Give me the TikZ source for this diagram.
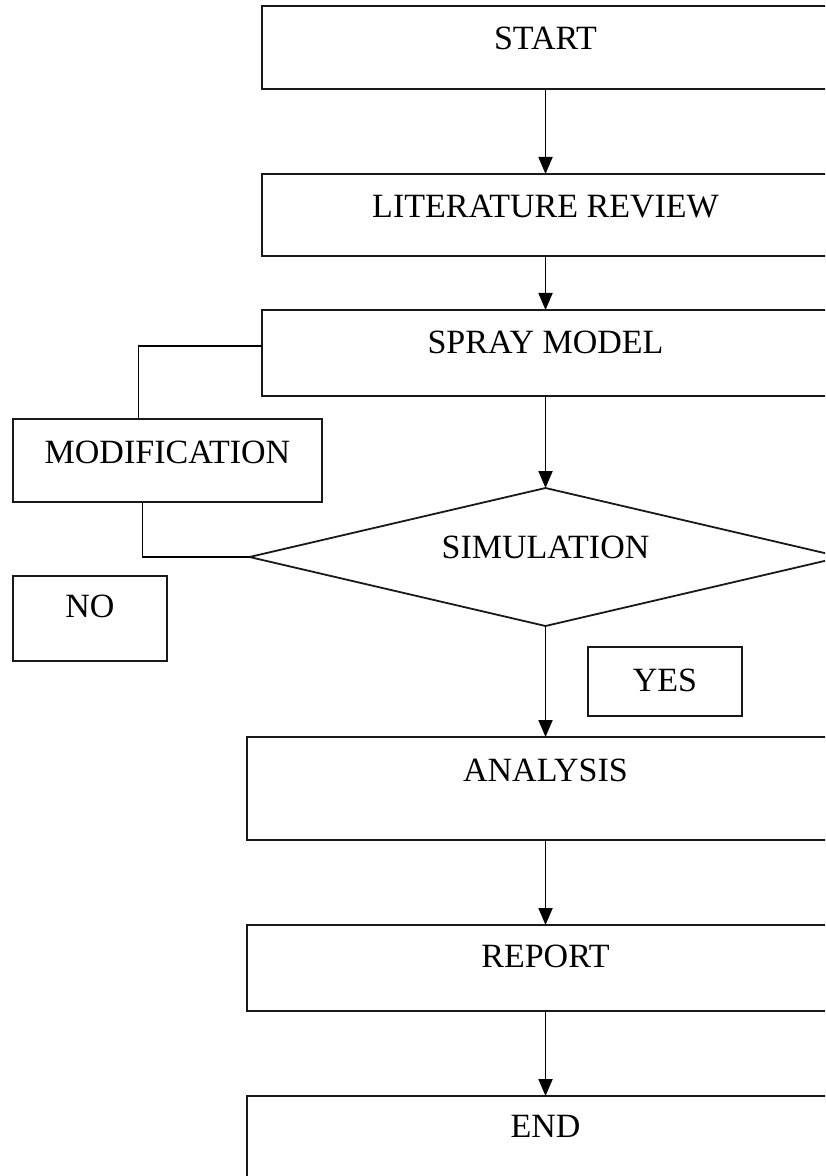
\documentclass[tikz,border=0pt]{standalone}
\usepackage{fontspec}
\setmainfont{Liberation Serif}
\usetikzlibrary{arrows.meta, positioning, shapes.geometric}

\begin{document}
\begin{tikzpicture}[
    x=0.5pt, y=-0.5pt,
    stepbox/.style={
        rectangle,
        draw=black!90,
        line width=0.9pt,
        inner sep=0pt,
        outer sep=0pt,
        text height=22pt,
        text depth=20pt,
        align=center,
        font=\fontsize{17}{20}\selectfont
    },
    decision/.style={
        diamond,
        draw=black!90,
        line width=0.9pt,
        aspect=4.3,
        inner sep=0pt,
        outer sep=0pt,
        minimum width=296pt,
        minimum height=69pt,
        text height=11pt,
        text depth=10pt,
        font=\fontsize{17}{20}\selectfont
    },
    flow/.style={
        line width=0.9pt,
        -{Triangle[length=8.5pt, width=7pt]}
    },
    link/.style={
        line width=0.9pt
    }
]
    \useasboundingbox (0,0) rectangle (825,1176);
    \fill[white] (0,0) rectangle (825,1176);
    \clip (0,0) rectangle (825,1176);

    % MAIN COLUMN
    \node[stepbox, minimum width=283.5pt, text depth=19.5pt, anchor=north] (start) at (545.5,6) {START};
    \node[stepbox, minimum width=283.5pt, text depth=19pt, below=42.5pt of start] (litreview) {LITERATURE REVIEW};
    \node[stepbox, minimum width=283.5pt, text height=21.5pt, text depth=21.5pt, below=27pt of litreview] (spray) {SPRAY MODEL};
    \node[decision, below=46pt of spray] (sim) {SIMULATION};
    \node[stepbox, minimum width=298.5pt, text depth=29.5pt, below=55.5pt of sim] (analysis) {ANALYSIS};
    \node[stepbox, minimum width=298.5pt, text height=21pt, text depth=22pt, below=42.5pt of analysis] (report) {REPORT};
    \node[stepbox, minimum width=298.5pt, text height=20.5pt, text depth=40pt, below=42.5pt of report] (end) {END};

    % SIDE BOXES
    \node[stepbox, minimum width=154.5pt, text depth=19.5pt, anchor=north west] (modif) at (13,419) {MODIFICATION};
    \node[stepbox, minimum width=77pt, text height=20.5pt, text depth=22pt, anchor=north west] (no) at (13,576) {NO};
    \node[stepbox, minimum width=77pt, text depth=12.5pt, anchor=north west] (yes) at (588,647) {YES};

    % Arrows
    \draw[flow] (start.south) -- (litreview.north);
    \draw[flow] (litreview.south) -- (spray.north);
    \draw[flow] (spray.south) -- (sim.north);
    \draw[flow] (sim.south) -- (analysis.north);
    \draw[flow] (analysis.south) -- (report.north);
    \draw[flow] (report.south) -- (end.north);

    % Feedback loop
    \draw[link] ([yshift=-18pt]spray.north west) -| ([xshift=-14.5pt]modif.north);
    \draw[link] ([xshift=-12.5pt]modif.south) |- (sim.west);
\end{tikzpicture}
\end{document}
